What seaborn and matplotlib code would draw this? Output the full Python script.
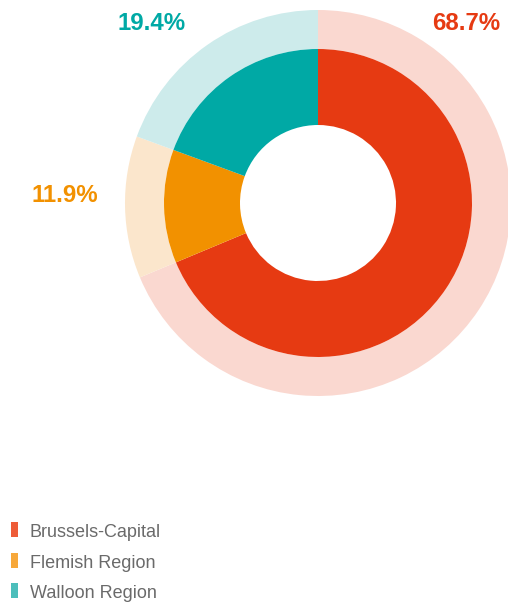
import matplotlib
matplotlib.use("Agg")
import matplotlib.pyplot as plt
from matplotlib.patches import Rectangle
import seaborn as sns

# Share of the total by region
regions = ["Brussels-Capital", "Flemish Region", "Walloon Region"]
shares = [68.7, 11.9, 19.4]

dark_colors = ["#E63A12", "#F29100", "#00A9A5"]
light_colors = ["#FAD8D0", "#FBE6CC", "#CDEBEB"]
legend_colors = ["#EE5C38", "#F7A83A", "#4CBEBB"]

sns.set_theme(style="white")
plt.rcParams["font.family"] = ["Liberation Sans", "DejaVu Sans"]

W, H = 508, 603
fig = plt.figure(figsize=(W / 100, H / 100), dpi=100)
ax = fig.add_axes([0, 0, 1, 1])
ax.set_xlim(0, W)
ax.set_ylim(0, H)
ax.set_aspect("equal")
ax.axis("off")

cx, cy = 318, H - 203
r_outer, r_mid, r_hole = 193, 154, 78

# Pale outer ring
ax.pie(shares, colors=light_colors, startangle=90, counterclock=False,
       center=(cx, cy), radius=r_outer,
       wedgeprops=dict(width=r_outer - r_mid, linewidth=0))
# Solid inner ring
ax.pie(shares, colors=dark_colors, startangle=90, counterclock=False,
       center=(cx, cy), radius=r_mid,
       wedgeprops=dict(width=r_mid - r_hole, linewidth=0))
ax.set_xlim(0, W)
ax.set_ylim(0, H)

# Percentage labels
label_pos = [(466, H - 23), (65, H - 196), (152, H - 23)]
for val, col, (lx, ly) in zip(shares, dark_colors, label_pos):
    ax.text(lx, ly, f"{val:.1f}%", color=col, fontsize=17.3, fontweight="bold",
            ha="center", va="center")

# Legend
for i, (name, col) in enumerate(zip(regions, legend_colors)):
    base = H - (537 + 30.5 * i)
    ax.add_patch(Rectangle((11, base), 6.5, 15, facecolor=col, linewidth=0))
    ax.text(29.5, base, name, color="#6A6A6A", fontsize=13, ha="left",
            va="baseline")

fig.savefig("out.png", dpi=100)
